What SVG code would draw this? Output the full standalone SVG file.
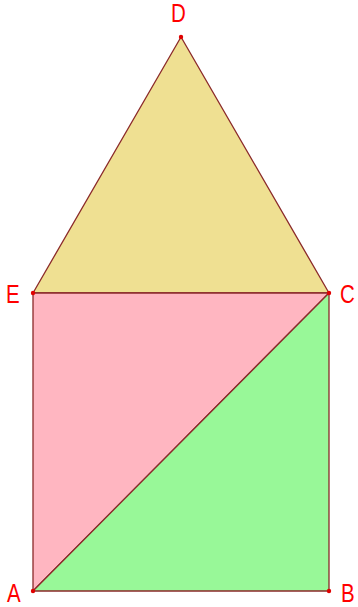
<svg xmlns="http://www.w3.org/2000/svg" width="358" height="607" viewBox="0 0 358 607">
<style>
.edge{stroke:#8b2a2a;stroke-width:1.3;stroke-linejoin:round}
.pt{fill:#e00000}
.lbl{font-family:"Liberation Sans",Arial,sans-serif;font-size:25px;fill:#ff0000}
</style>
<rect width="358" height="607" fill="#ffffff"/>
<g id="shapes">
<g id="triangle-ECD"><polygon class="edge" points="33,293 329,293 181,37" fill="#efe092"/></g>
<g id="triangle-AEC"><polygon class="edge" points="33,591 33,293 329,293" fill="#ffb6c1"/></g>
<g id="triangle-ABC"><polygon class="edge" points="33,591 329,591 329,293" fill="#98f898"/></g>
</g>
<g id="nodes">
<g id="D"><circle class="pt" cx="181" cy="37" r="2.2"/><text class="lbl" transform="translate(171,22) scale(0.82,1)">D</text></g>
<g id="E"><circle class="pt" cx="33" cy="293" r="2.2"/><text class="lbl" transform="translate(6,303) scale(0.82,1)">E</text></g>
<g id="C"><circle class="pt" cx="329" cy="293" r="2.2"/><text class="lbl" transform="translate(340,303) scale(0.82,1)">C</text></g>
<g id="A"><circle class="pt" cx="33" cy="591" r="2.2"/><text class="lbl" transform="translate(7,602) scale(0.82,1)">A</text></g>
<g id="B"><circle class="pt" cx="329" cy="591" r="2.2"/><text class="lbl" transform="translate(341,602) scale(0.82,1)">B</text></g>
</g>
</svg>
